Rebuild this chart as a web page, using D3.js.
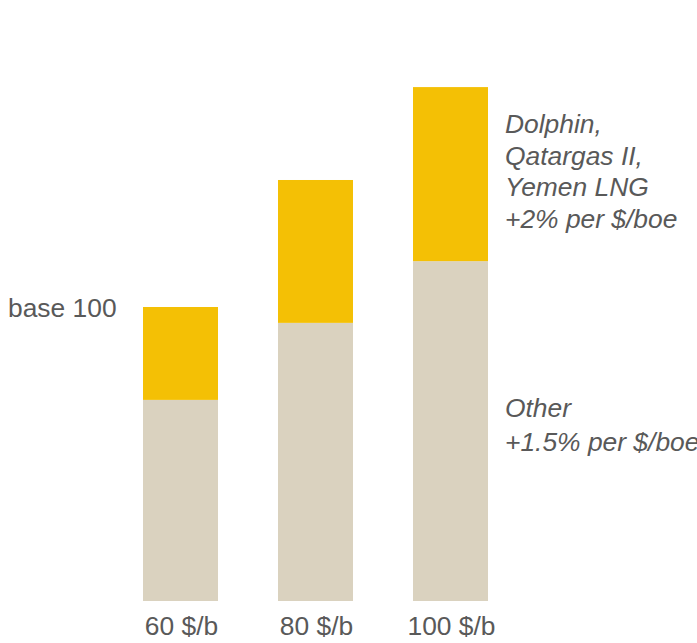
<!DOCTYPE html>
<html><head><meta charset="utf-8">
<script src="https://cdn.jsdelivr.net/npm/d3@7"></script>
<style>body{margin:0;background:#fff}svg{display:block}</style>
</head><body>
<script>
const categories = ["60 $/b", "80 $/b", "100 $/b"];
const otherValues = [68.4, 94.6, 115.6];
const projectValues = [31.6, 48.6, 59.2];
const seriesNames = ["Other", "Dolphin, Qatargas II, Yemen LNG"];

const W = 697, H = 643;
const svg = d3.select("body").append("svg").attr("width", W).attr("height", H);
const x = d3.scaleBand().domain(categories).range([143, 488]).paddingInner(60/135).paddingOuter(0);
const y = d3.scaleLinear().domain([0, 100]).range([601, 307]);
const font = "'Liberation Sans', Arial, sans-serif";
const txt = "#595959";
const fs = 26.4;

const rows = categories.map((c, i) => ({cat: c, other: otherValues[i], project: projectValues[i]}));
const stack = d3.stack().keys(["other", "project"])(rows);
const colors = {other: "#DAD2BF", project: "#F4C005"};

svg.selectAll("g.layer").data(stack).join("g").attr("fill", d => colors[d.key])
  .selectAll("rect").data(d => d).join("rect")
  .attr("x", d => x(d.data.cat)).attr("width", x.bandwidth())
  .attr("y", d => y(d[1])).attr("height", d => y(d[0]) - y(d[1]));

svg.selectAll("text.cat").data(categories).join("text")
  .attr("x", d => x(d) + x.bandwidth()/2 + 1).attr("y", 635)
  .attr("text-anchor", "middle").attr("font-family", font).attr("font-size", fs).attr("fill", txt)
  .text(d => d);

svg.append("text").attr("x", 8).attr("y", 317).attr("font-family", font)
  .attr("font-size", fs).attr("fill", txt).text("base 100");

const topLines = ["Dolphin,", "Qatargas II,", "Yemen LNG", "+2% per $/boe"];
svg.append("g").selectAll("text").data(topLines).join("text")
  .attr("x", 505).attr("y", (d, i) => 133 + i * 31.7)
  .attr("font-family", font).attr("font-size", fs).attr("font-style", "italic").attr("fill", txt).text(d => d);

const botLines = ["Other", "+1.5% per $/boe"];
svg.append("g").selectAll("text").data(botLines).join("text")
  .attr("x", 505).attr("y", (d, i) => 417 + i * 33.5)
  .attr("font-family", font).attr("font-size", fs).attr("font-style", "italic").attr("fill", txt).text(d => d);
</script>
</body></html>
